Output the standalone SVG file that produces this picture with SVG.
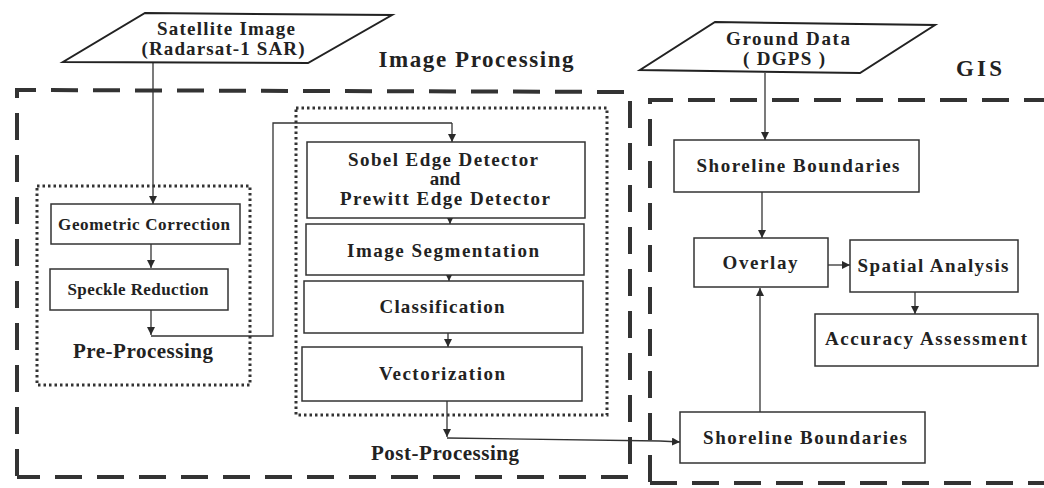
<svg xmlns="http://www.w3.org/2000/svg" width="1044" height="488" viewBox="0 0 1044 488">
<defs>
<marker id="ah" viewBox="0 0 10 10" refX="10" refY="5" markerWidth="8" markerHeight="8" markerUnits="userSpaceOnUse" orient="auto">
<path d="M0,0 L10,5 L0,10 z" fill="#2a2a2a"/>
</marker>
</defs>
<style>
.t{font-family:"Liberation Serif","DejaVu Serif","Times New Roman",serif;font-weight:bold;fill:#222;text-anchor:middle;font-size:19px}
.t.s{font-size:17px}
.t.h{font-size:21px}
.t.g{font-size:23px}
.box{fill:#fff;stroke:#333;stroke-width:1.5}
.io{fill:#fff;stroke:#222;stroke-width:2}
.dash{fill:none;stroke:#333;stroke-width:4;stroke-dasharray:27 15}
.dot{fill:none;stroke:#333;stroke-width:3;stroke-dasharray:2.5 3}
.c{fill:none;stroke:#333;stroke-width:1.3}
.ca{fill:none;stroke:#333;stroke-width:1.3;marker-end:url(#ah)}
</style>
<rect width="1044" height="488" fill="#fff"/>

<g id="regions">
<path class="dash" d="M17,476 L17,90 L630,92 L630,477 L17,477"/>
<path class="dash" d="M650,482 L650,100 L1044,100 M650,483 L1044,483"/>
<rect class="dot" x="37" y="186" width="213" height="199"/>
<rect class="dot" x="296" y="108" width="311" height="307"/>
<text class="t g" x="476" y="67" textLength="195" lengthAdjust="spacing">Image Processing</text>
<text class="t h" x="143" y="358" textLength="140" lengthAdjust="spacing">Pre-Processing</text>
<text class="t h" x="445" y="460" textLength="148" lengthAdjust="spacing">Post-Processing</text>
<text class="t g" x="979" y="76" textLength="46" lengthAdjust="spacing">GIS</text>
</g>

<g id="connectors">
<path class="ca" d="M153,63 L153,204"/>
<path class="ca" d="M151,244 L151,268"/>
<path class="ca" d="M151,310 L151,335"/>
<path class="c" d="M151,336 L273,336 L273,123 L452,123"/>
<path class="ca" d="M452,123 L452,142"/>
<path class="ca" d="M450,218 L450,224"/>
<path class="ca" d="M449,275 L449,281"/>
<path class="ca" d="M448,333 L448,347"/>
<path class="ca" d="M447,401 L447,437"/>
<path class="c" d="M447,438 L660,441"/>
<path class="ca" d="M660,441 L680,442"/>
<path class="ca" d="M765,73 L765,140"/>
<path class="ca" d="M762,192 L762,238"/>
<path class="ca" d="M828,265 L850,265"/>
<path class="ca" d="M915,292 L915,314"/>
<path class="ca" d="M760,412 L760,288"/>
</g>

<g id="satellite">
<path class="io" d="M145,13 L392,15 L308,63 L63,62 Z"/>
<text class="t" x="226" y="35" textLength="138" lengthAdjust="spacing">Satellite Image</text>
<text class="t" x="223" y="55" textLength="163" lengthAdjust="spacing">(Radarsat-1 SAR)</text>
</g>
<g id="geometric">
<rect class="box" x="51" y="204" width="189" height="40"/>
<text class="t s" x="144" y="230" textLength="172" lengthAdjust="spacing">Geometric Correction</text>
</g>
<g id="speckle">
<rect class="box" x="50" y="269" width="178" height="41"/>
<text class="t s" x="138" y="295" textLength="141" lengthAdjust="spacing">Speckle Reduction</text>
</g>
<g id="edge">
<rect class="box" x="307" y="142" width="278" height="76"/>
<text class="t" x="443" y="166" textLength="190" lengthAdjust="spacing">Sobel Edge Detector</text>
<text class="t" x="445" y="185">and</text>
<text class="t" x="445" y="205" textLength="210" lengthAdjust="spacing">Prewitt Edge Detector</text>
</g>
<g id="segmentation">
<rect class="box" x="306" y="224" width="278" height="51"/>
<text class="t" x="443" y="257" textLength="192" lengthAdjust="spacing">Image Segmentation</text>
</g>
<g id="classification">
<rect class="box" x="304" y="281" width="279" height="52"/>
<text class="t" x="442" y="313" textLength="125" lengthAdjust="spacing">Classification</text>
</g>
<g id="vectorization">
<rect class="box" x="302" y="347" width="280" height="54"/>
<text class="t" x="442" y="380" textLength="126" lengthAdjust="spacing">Vectorization</text>
</g>
<g id="ground">
<path class="io" d="M715,22 L935,25 L860,73 L640,70 Z"/>
<text class="t" x="788" y="45" textLength="124" lengthAdjust="spacing">Ground Data</text>
<text class="t" x="784" y="65" textLength="82" lengthAdjust="spacing">( DGPS )</text>
</g>
<g id="shoreline1">
<rect class="box" x="674" y="140" width="245" height="52"/>
<text class="t" x="798" y="172" textLength="203" lengthAdjust="spacing">Shoreline Boundaries</text>
</g>
<g id="overlay">
<rect class="box" x="694" y="238" width="134" height="49"/>
<text class="t" x="760" y="269" textLength="75" lengthAdjust="spacing">Overlay</text>
</g>
<g id="spatial">
<rect class="box" x="850" y="240" width="168" height="52"/>
<text class="t" x="933" y="272" textLength="151" lengthAdjust="spacing">Spatial Analysis</text>
</g>
<g id="accuracy">
<rect class="box" x="815" y="314" width="223" height="52"/>
<text class="t" x="926" y="345" textLength="202" lengthAdjust="spacing">Accuracy Assessment</text>
</g>
<g id="shoreline2">
<rect class="box" x="680" y="412" width="245" height="51"/>
<text class="t" x="805" y="444" textLength="204" lengthAdjust="spacing">Shoreline Boundaries</text>
</g>
</svg>
